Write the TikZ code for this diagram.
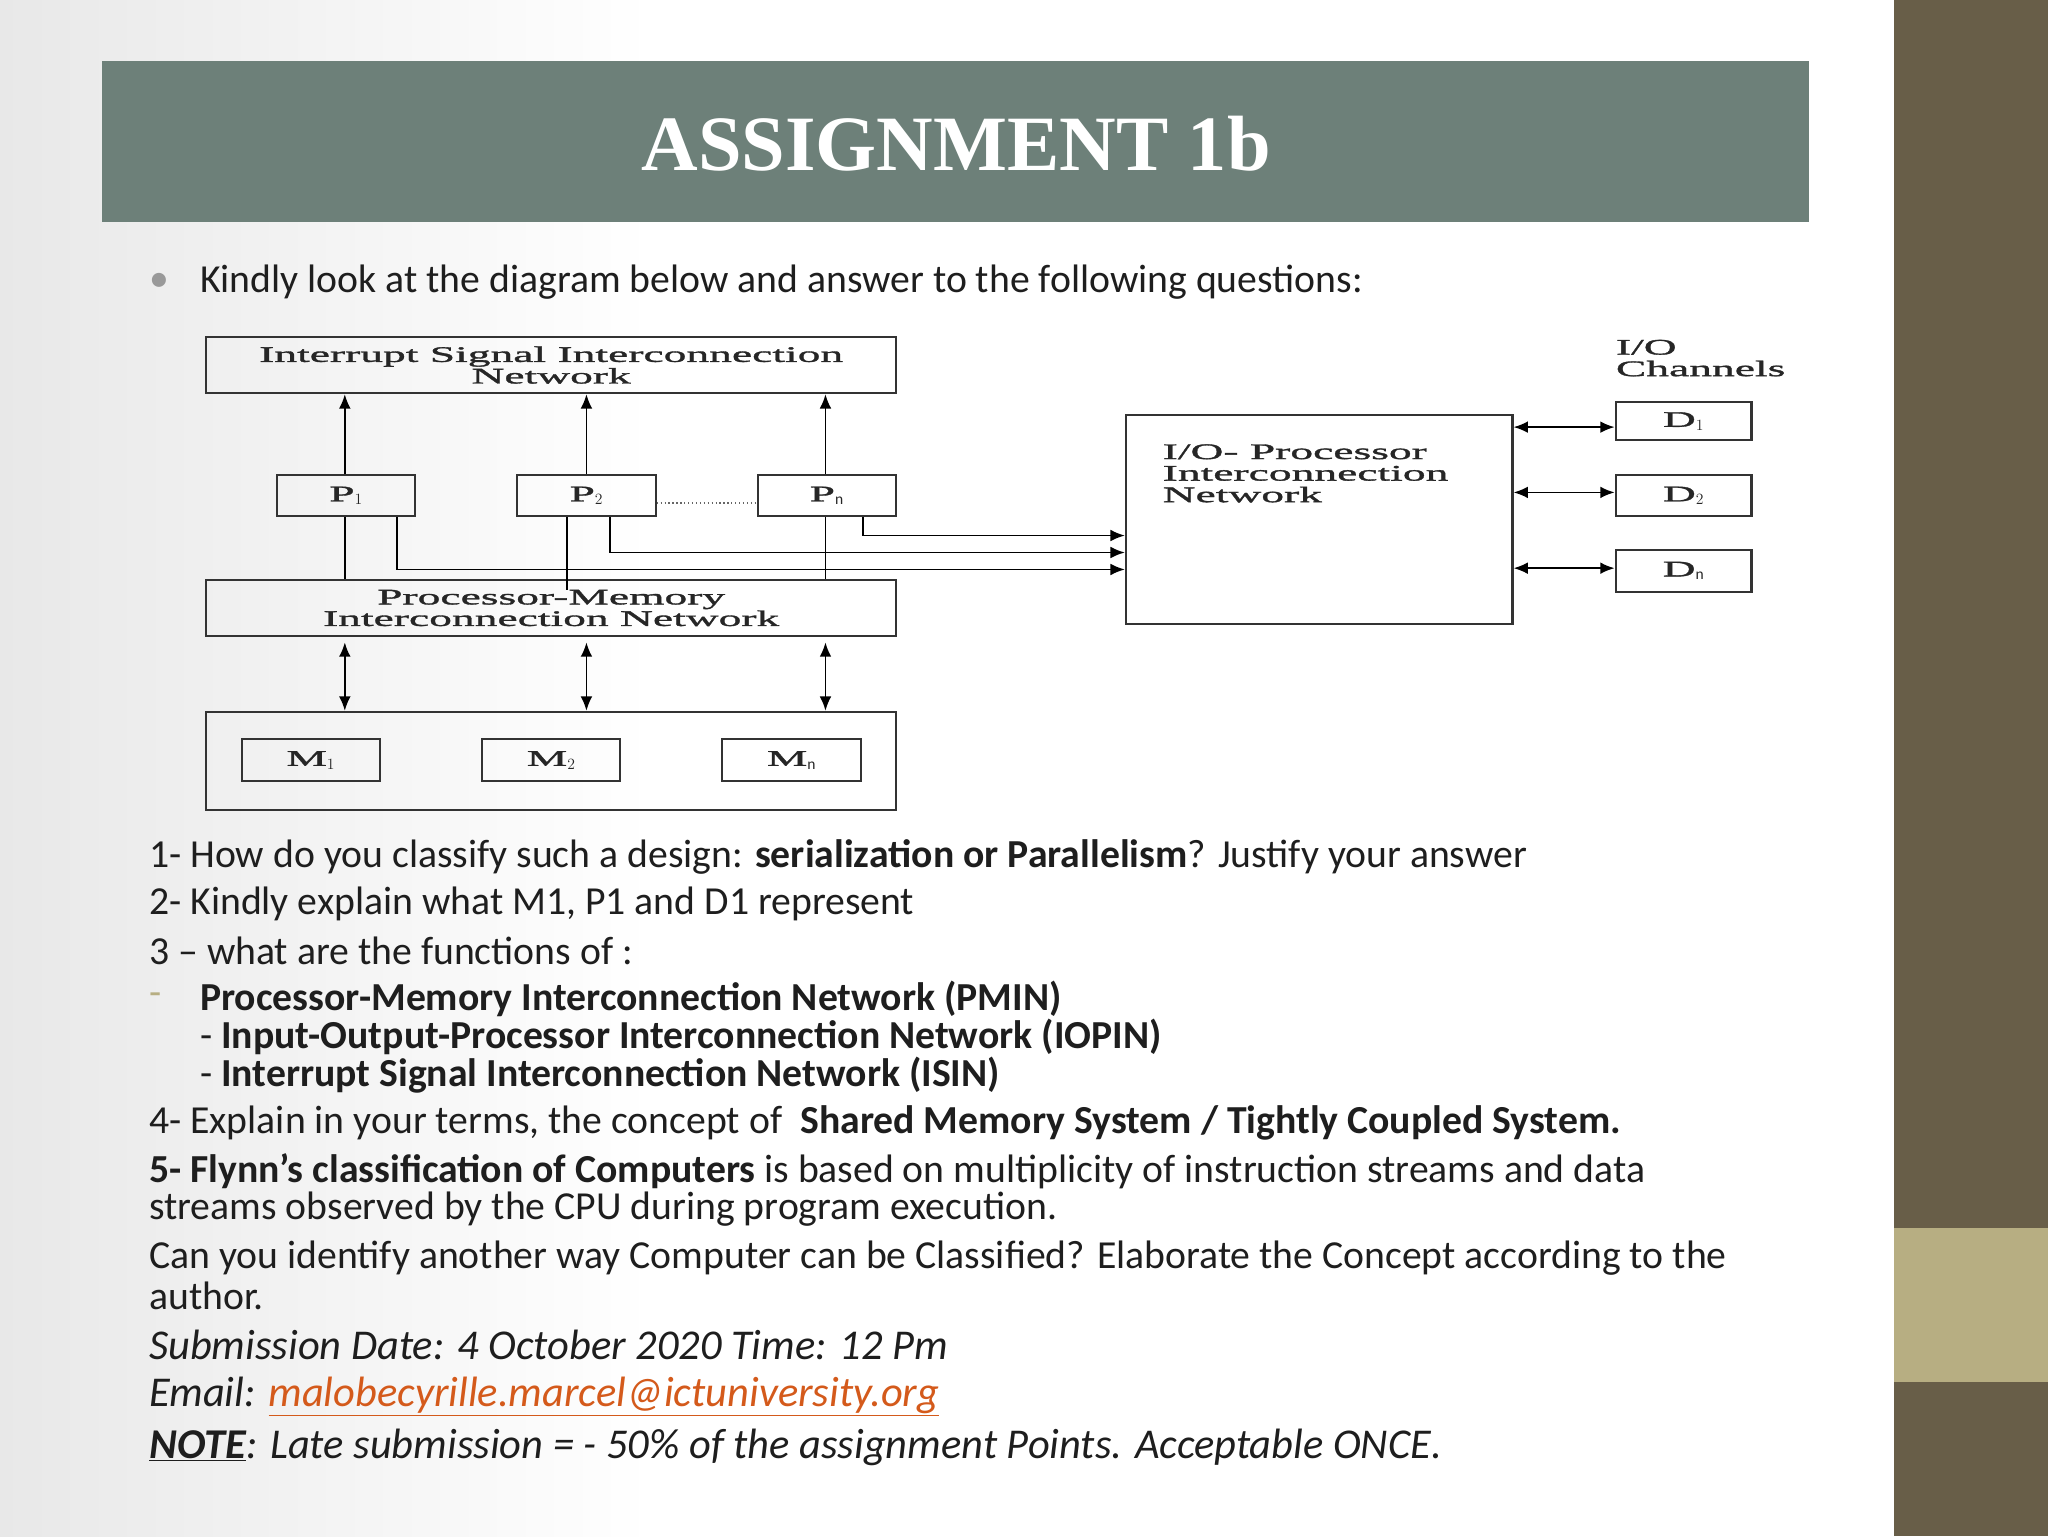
\documentclass[tikz,border=0pt]{standalone}
\usepackage{fontspec}
\setmainfont{Carlito}
\newfontfamily\dgfont[FakeStretch=2.05,FakeBold=1.5]{Liberation Serif}
\newfontfamily\ttlfont{Liberation Serif}
\usetikzlibrary{arrows.meta}
\definecolor{titlebar}{RGB}{109,128,121}
\definecolor{darkbar}{RGB}{104,94,72}
\definecolor{khaki}{RGB}{183,174,130}
\definecolor{linkc}{RGB}{212,90,27}
\definecolor{txt}{RGB}{30,30,30}
\begin{document}
\begin{tikzpicture}[x=1pt,y=-1pt,
  bx/.style={draw=black!80,line width=1.6pt,inner sep=0pt},
  dg/.style={font=\dgfont\fontsize{17}{16.5}\selectfont,text=black!85,align=center},
  ar/.style={line width=1.4pt,-{Latex[length=11pt,width=9pt]}},
  dar/.style={line width=1.4pt,{Latex[length=11pt,width=9pt]}-{Latex[length=11pt,width=9pt]}},
  ln/.style={line width=1.4pt},
  tl/.style={anchor=west,inner sep=0pt,text=txt,font=\fontsize{30.4}{31}\selectfont},
  il/.style={anchor=west,inner sep=0pt,text=txt,font=\fontsize{32.5}{33}\selectfont\itshape}]
\useasboundingbox (0,0) rectangle (1568,1176);
\fill[white] (0,0) rectangle (1568,1176);
\shade[left color=black!9,right color=white] (0,0) rectangle (500,1176);
\fill[darkbar] (1450,0) rectangle (1568,1176);
\fill[khaki] (1450,940) rectangle (1568,1058);
\fill[titlebar] (78,47) rectangle (1385,170);
\node[text=white,font=\ttlfont\bfseries\fontsize{60}{60}\selectfont] (title) at (732,110) {ASSIGNMENT 1b};
\node[tl,text=black!40] (bul) at (114,216) {•};
\node[tl] (intro) at (153,216) {Kindly look at the diagram below and answer to the following questions:};
% diagram
\node[bx,minimum width=528pt,minimum height=43pt,dg] (isin) at (422,279.5) {Interrupt Signal Interconnection\\Network};
\node[bx,minimum width=106pt,minimum height=31pt,dg] (p1) at (265,379.5) {P$_1$};
\node[bx,minimum width=106pt,minimum height=31pt,dg] (p2) at (449,379.5) {P$_2$};
\node[bx,minimum width=106pt,minimum height=31pt,dg] (pn) at (633,379.5) {P$_{\rm n}$};
\draw[dotted,line width=1pt,black!60] (p2.east|-0,385) -- (pn.west|-0,385);
\node[bx,minimum width=528pt,minimum height=43pt,dg] (pmin) at (422,465.5) {Processor-Memory\\Interconnection Network};
\draw[ln] (p2.south-|434,0) -- (434,452);
\node[bx,minimum width=528pt,minimum height=75pt] (mem) at (422,582.5) {};
\node[bx,minimum width=106pt,minimum height=32pt,dg] (m1) at (238,582) {M$_1$};
\node[bx,minimum width=106pt,minimum height=32pt,dg] (m2) at (422,582) {M$_2$};
\node[bx,minimum width=106pt,minimum height=32pt,dg] (mn) at (606,582) {M$_{\rm n}$};
\node[bx,minimum width=296pt,minimum height=160pt] (iop) at (1010,398) {};
\node[dg,align=left,anchor=north west,inner sep=0pt] (ioptxt) at (890,340) {I/O- Processor\\Interconnection\\Network};
\node[bx,minimum width=104pt,minimum height=29pt,dg] (d1) at (1289,322.5) {D$_1$};
\node[bx,minimum width=104pt,minimum height=31pt,dg] (d2) at (1289,379.5) {D$_2$};
\node[bx,minimum width=104pt,minimum height=32pt,dg] (dn) at (1289,437) {D$_{\rm n}$};
\node[dg,align=left,anchor=north west,inner sep=0pt] (ioch) at (1237,260) {I/O\\Channels};
\foreach \p/\x in {p1/264,p2/449,pn/632}{\draw[ar] (\p.north-|\x,0) -- (isin.south-|\x,0);}
\foreach \x in {264,449,632}{\draw[dar] (pmin.south-|\x,0) ++(0,4) -- (mem.north-|\x,0);}
\draw[ln] (p1.south-|264,0) -- (pmin.north-|264,0);
\draw[ln] (pn.south-|632,0) -- (pmin.north-|632,0);
\coordinate (e1) at (iop.west|-0,410);
\coordinate (e2) at (iop.west|-0,423);
\coordinate (e3) at (iop.west|-0,436);
\draw[ar] (pn.south-|661,0) |- (e1);
\draw[ar] (p2.south-|467,0) |- (e2);
\draw[ar] (p1.south-|304,0) |- (e3);
\draw[dar] (iop.east|-0,327) -- (d1.west|-0,327);
\draw[dar] (iop.east|-0,377) -- (d2.west|-0,377);
\draw[dar] (iop.east|-0,435) -- (dn.west|-0,435);
% questions
\node[tl] (q1) at (114,656) {1- How do you classify such a design: \textbf{serialization or Parallelism}? Justify your answer};
\node[tl] (q2) at (114,692) {2- Kindly explain what M1, P1 and D1 represent};
\node[tl] (q3) at (114,728) {3 – what are the functions of :};
\node[tl,text=khaki] (dash) at (114,765) {-};
\node[tl] (q3a) at (153,765) {\textbf{Processor-Memory Interconnection Network (PMIN)}};
\node[tl] (q3b) at (153,794) {- \textbf{Input-Output-Processor Interconnection Network (IOPIN)}};
\node[tl] (q3c) at (153,823) {- \textbf{Interrupt Signal Interconnection Network (ISIN)}};
\node[tl] (q4) at (114,860) {4- Explain in your terms, the concept of\ \ \textbf{Shared Memory System / Tightly Coupled System.}};
\node[tl] (q5) at (114,897) {\textbf{5- Flynn’s classification of Computers} is based on multiplicity of instruction streams and data};
\node[tl] (q5b) at (114,926) {streams observed by the CPU during program execution.};
\node[tl] (q6) at (114,963) {Can you identify another way Computer can be Classified? Elaborate the Concept according to the};
\node[tl] (q6b) at (114,992) {author.};
\node[il] (sub) at (114,1030) {Submission Date: 4 October 2020 Time: 12 Pm};
\node[il] (em) at (114,1069) {Email: \textcolor{linkc}{\underline{malobecyrille.marcel@ictuniversity.org}}};
\node[il] (note) at (114,1108) {\underline{\textbf{NOTE}}: Late submission = - 50\% of the assignment Points. Acceptable ONCE.};
\end{tikzpicture}
\end{document}
